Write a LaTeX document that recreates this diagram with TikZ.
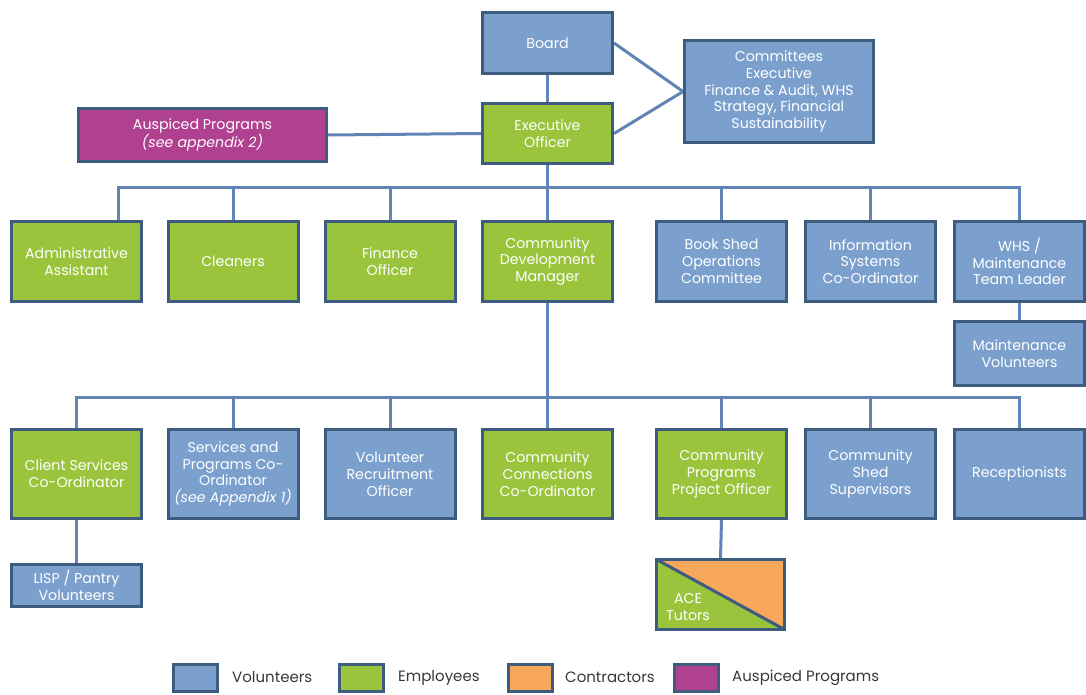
\documentclass[tikz,border=0pt]{standalone}
\usepackage{fontspec}
\setmainfont{Poppins}
\usetikzlibrary{backgrounds}

\definecolor{volblue}{RGB}{123,160,205}
\definecolor{empgreen}{RGB}{153,196,60}
\definecolor{conorange}{RGB}{248,168,90}
\definecolor{auspurple}{RGB}{176,64,144}
\definecolor{edgeblue}{RGB}{62,92,128}
\definecolor{linkblue}{RGB}{96,132,182}
\definecolor{legendgray}{RGB}{55,55,55}

\newcommand{\boxfont}{\fontsize{14.2}{16.8}\selectfont}
\newcommand{\legfont}{\fontsize{15}{17}\selectfont}

\begin{document}
\begin{tikzpicture}[x = 1pt, y = -1pt,
    box/.style = {draw = edgeblue, line width = 3pt, text = white, align = center, inner sep = 0pt, font = \boxfont},
    vol/.style = {box, fill = volblue},
    emp/.style = {box, fill = empgreen},
    aus/.style = {box, fill = auspurple},
    con/.style = {box, fill = conorange},
    split/.style = {box, path picture = {
        \fill [conorange] (path picture bounding box.north west) -- (path picture bounding box.north east) -- (path picture bounding box.south east) -- cycle;
        \fill [empgreen] (path picture bounding box.north west) -- (path picture bounding box.south west) -- (path picture bounding box.south east) -- cycle;
        \draw [edgeblue, line width = 3pt] (path picture bounding box.north west) -- (path picture bounding box.south east);}},
    rowone/.style = {minimum width = 130pt, minimum height = 80pt},
    rowtwo/.style = {minimum width = 130pt, minimum height = 89pt},
    legbox/.style = {minimum width = 44pt, minimum height = 27pt},
    legtext/.style = {right, inner sep = 0pt, text = legendgray, font = \legfont},
    link/.style = {draw = linkblue, line width = 3pt}]
    \useasboundingbox (0, 0) rectangle (1086, 694);

    \node [vol, minimum width = 130pt, minimum height = 61pt] (board) at (547.5, 43) {Board};
    \node [emp, minimum width = 130pt, minimum height = 60pt] (exec) at (547.5, 133.5) {Executive\\Officer};
    \node [aus, minimum width = 248pt, minimum height = 53pt] (ausp) at (202.5, 135) {Auspiced Programs\\\textit{(see appendix 2)}};
    \node [vol, minimum width = 189pt, minimum height = 102pt] (comm) at (779, 91.5) {Committees\\Executive\\Finance \& Audit, WHS\\Strategy, Financial\\Sustainability};

    \node [emp, rowone] (admin) at (76.5, 261.5) {Administrative\\Assistant};
    \node [emp, rowone] (clean) at (233, 261.5) {Cleaners};
    \node [emp, rowone] (fin) at (390, 261.5) {Finance\\Officer};
    \node [emp, rowone] (cdm) at (547.5, 261.5) {Community\\Development\\Manager};
    \node [vol, rowone] (book) at (721.5, 261.5) {Book Shed\\Operations\\Committee};
    \node [vol, rowone] (info) at (870.5, 261.5) {Information\\Systems\\Co-Ordinator};
    \node [vol, rowone] (whs) at (1019.5, 261.5) {WHS /\\Maintenance\\Team Leader};
    \node [vol, minimum width = 130pt, minimum height = 64pt] (maint) at (1019.5, 353.5) {Maintenance\\Volunteers};

    \node [emp, rowtwo] (client) at (76.5, 474) {Client Services\\Co-Ordinator};
    \node [vol, rowtwo] (servs) at (233, 474) {Services and\\Programs Co-\\Ordinator\\\textit{(see Appendix 1)}};
    \node [vol, rowtwo] (volrec) at (390, 474) {Volunteer\\Recruitment\\Officer};
    \node [emp, rowtwo] (conn) at (547.5, 474) {Community\\Connections\\Co-Ordinator};
    \node [emp, rowtwo] (cppo) at (721.5, 474) {Community\\Programs\\Project Officer};
    \node [vol, rowtwo] (shed) at (870.5, 474) {Community\\Shed\\Supervisors};
    \node [vol, rowtwo] (recep) at (1019.5, 474) {Receptionists};

    \node [vol, minimum width = 130pt, minimum height = 42pt] (lisp) at (76.5, 585.5) {LISP / Pantry\\Volunteers};
    \node [split, minimum width = 128pt, minimum height = 70pt] (ace) at (720.5, 594.5) {};
    \node [text = white, align = center, inner sep = 0pt, font = \boxfont] (acetext) at (688, 607) {ACE\\Tutors};

    \begin{scope}[on background layer]
        \draw [link] (board.south) -- (exec.north);
        \draw [link] (board.east) -- (comm.west);
        \draw [link] (exec.east) -- (comm.west);
        \draw [link] (ausp.east) -- (exec.west);
        \draw [link] (exec.south) -- (cdm.north);
        \coordinate (busa) at (118, 187);
        \coordinate (busb) at (1019.5, 187);
        \draw [link] (busa |- admin.north) -- (busa) -- (busb) -- (whs.north);
        \draw [link] (clean.north) -- (clean.north |- busa);
        \draw [link] (fin.north) -- (fin.north |- busa);
        \draw [link] (book.north) -- (book.north |- busa);
        \draw [link] (info.north) -- (info.north |- busa);
        \draw [link] (whs.south) -- (maint.north);
        \draw [link] (cdm.south) -- (conn.north);
        \coordinate (busc) at (76.5, 397);
        \coordinate (busd) at (1019.5, 397);
        \draw [link] (client.north) -- (busc) -- (busd) -- (recep.north);
        \draw [link] (servs.north) -- (servs.north |- busc);
        \draw [link] (volrec.north) -- (volrec.north |- busc);
        \draw [link] (cppo.north) -- (cppo.north |- busc);
        \draw [link] (shed.north) -- (shed.north |- busc);
        \draw [link] (client.south) -- (lisp.north);
        \draw [link] (cppo.south) -- (ace.north);
    \end{scope}

    \node [vol, legbox] (legvol) at (195.5, 677.5) {};
    \node [legtext] (legvoltext) at (232, 677.5) {Volunteers};
    \node [emp, legbox] (legemp) at (361.5, 677.5) {};
    \node [legtext] (legemptext) at (398, 677.5) {Employees};
    \node [con, legbox] (legcon) at (530, 677.5) {};
    \node [legtext] (legcontext) at (565, 677.5) {Contractors};
    \node [aus, legbox] (legaus) at (696.5, 677.5) {};
    \node [legtext] (legaustext) at (732, 677.5) {Auspiced Programs};
\end{tikzpicture}
\end{document}
